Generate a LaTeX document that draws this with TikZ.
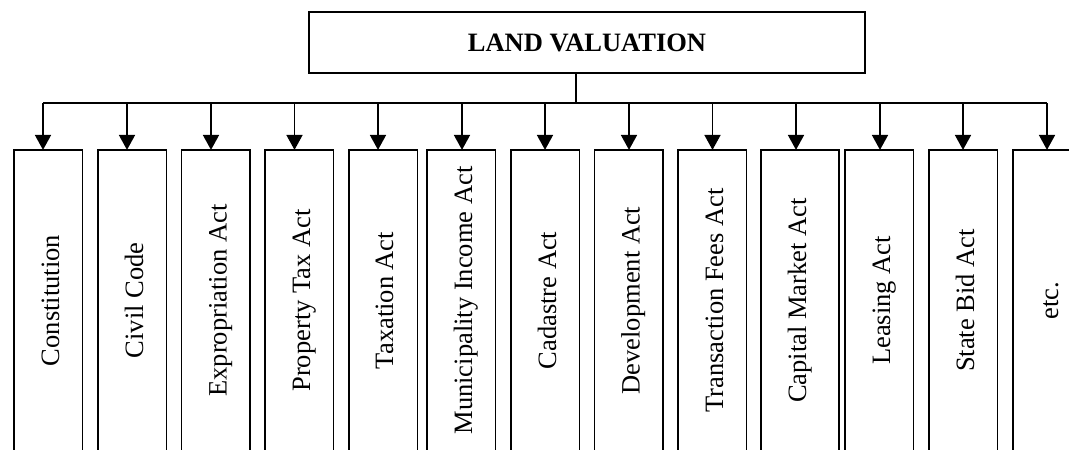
\documentclass[tikz,border=0pt]{standalone}
\usepackage{fontspec}
\setmainfont{Liberation Serif}
\usetikzlibrary{arrows.meta}
\begin{document}
\begin{tikzpicture}[x=1pt,y=-1pt,
  line/.style={line width=1.8pt,black},
  arr/.style={line/.try,line width=1.8pt,-{Triangle[width=16pt,length=15pt]}},
  leaf/.style={draw,line width=1.8pt,rectangle,minimum width=#1,minimum height=303pt,inner sep=0pt,anchor=north west},
  leaf/.default=68.5pt,
  lbl/.style={rotate=90,anchor=base,inner sep=0pt,font=\fontsize{26.5}{30}\selectfont},
  topbox/.style={draw,line width=1.8pt,rectangle,minimum width=556pt,minimum height=61pt,inner sep=0pt,font=\fontsize{26.5}{30}\selectfont\bfseries}]
\useasboundingbox (0,0) rectangle (1069,450);
\clip (0,0) rectangle (1069,450);
\fill[white] (0,0) rectangle (1069,450);
% top box
\node[topbox] (top) at (587,42.5) {LAND VALUATION};
% leaf boxes
\node[leaf] (b1) at (13,149) {};
\node[leaf] (b2) at (97,149) {};
\node[leaf] (b3) at (180.5,149) {};
\node[leaf] (b4) at (264,149) {};
\node[leaf] (b5) at (348,149) {};
\node[leaf] (b6) at (426,149) {};
\node[leaf] (b7) at (510,149) {};
\node[leaf] (b8) at (593.5,149) {};
\node[leaf] (b9) at (677,149) {};
\node[leaf=78pt] (b10) at (760,149) {};
\node[leaf] (b11) at (844,149) {};
\node[leaf] (b12) at (928,149) {};
\node[leaf] (b13) at (1012,149) {};
% labels
\node[lbl] (t1) at (59,300.5) {Constitution};
\node[lbl] (t2) at (143,300.5) {Civil Code};
\node[lbl] (t3) at (226.5,300.5) {Expropriation Act};
\node[lbl] (t4) at (310,300.5) {Property Tax Act};
\node[lbl] (t5) at (393,300.5) {Taxation Act};
\node[lbl] (t6) at (472,300.5) {Municipality Income Act};
\node[lbl] (t7) at (556,300.5) {Cadastre Act};
\node[lbl] (t8) at (639.5,300.5) {Development Act};
\node[lbl] (t9) at (723,300.5) {Transaction Fees Act};
\node[lbl] (t10) at (806,300.5) {Capital Market Act};
\node[lbl] (t11) at (890,300.5) {Leasing Act};
\node[lbl] (t12) at (974,300.5) {State Bid Act};
\node[lbl] (t13) at (1058,300.5) {etc.};
% bus coordinates
\coordinate (stem) at (576,103);
\coordinate (a1) at (43,103);
\coordinate (a2) at (127,103);
\coordinate (a3) at (211,103);
\coordinate (a4) at (294.5,103);
\coordinate (a5) at (378,103);
\coordinate (a6) at (462,103);
\coordinate (a7) at (545,103);
\coordinate (a8) at (629,103);
\coordinate (a9) at (712.5,103);
\coordinate (a10) at (796,103);
\coordinate (a11) at (880,103);
\coordinate (a12) at (963,103);
\coordinate (a13) at (1047,103);
\draw[line] (top.south -| stem) -- (stem);
\draw[line] (a1) -- (a13);
\foreach \i in {1,...,13}{
  \draw[arr] (a\i) -- ([yshift=-0.9pt]a\i |- b\i.north);
}
\end{tikzpicture}
\end{document}
